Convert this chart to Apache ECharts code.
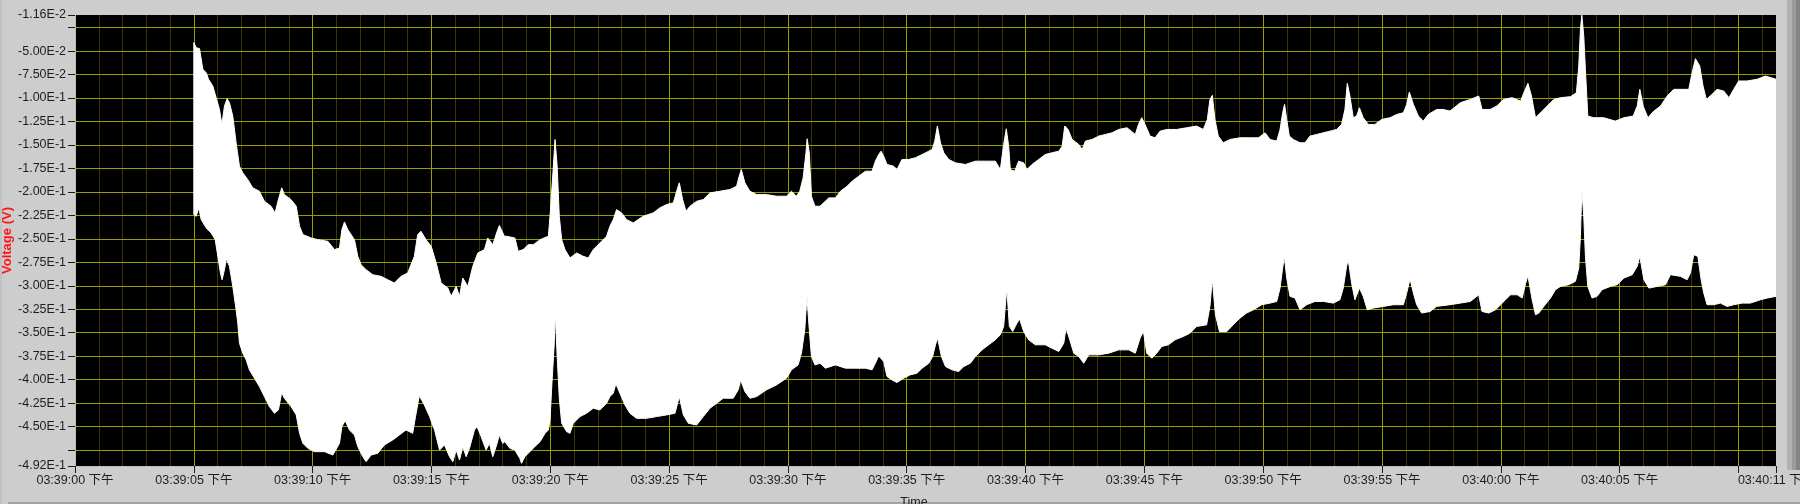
<!DOCTYPE html>
<html>
<head>
<meta charset="utf-8">
<script src="https://cdn.jsdelivr.net/npm/echarts@6/dist/echarts.min.js"></script>
<style>
html,body{margin:0;padding:0;background:#cdcdcd;overflow:hidden;}
#chart{width:1800px;height:504px;}
</style>
</head>
<body>
<div id="chart"></div>
<script>
// seconds after 03:39:00 PM
const upperTime = [5.00,5.10,5.24,5.38,5.52,5.62,5.80,5.94,6.08,6.18,6.29,6.40,6.50,6.64,6.78,6.92,7.06,7.27,7.48,7.76,7.97,8.25,8.42,8.56,8.70,8.81,9.09,9.31,9.45,9.59,9.94,10.22,10.64,10.92,11.13,11.23,11.34,11.48,11.76,11.90,12.04,12.25,12.53,12.88,13.16,13.44,13.72,14.00,14.28,14.42,14.56,14.77,14.99,15.20,15.41,15.69,15.83,16.04,16.18,16.32,16.53,16.74,16.95,17.23,17.37,17.58,17.79,17.86,18.07,18.16,18.51,18.65,18.86,19.07,19.29,19.57,19.92,20.01,20.13,20.20,20.29,20.38,20.48,20.62,20.83,21.11,21.39,21.60,21.81,22.09,22.37,22.51,22.65,22.79,23.00,23.21,23.49,23.70,23.91,24.33,24.61,24.89,25.18,25.34,25.43,25.57,25.71,25.88,26.16,26.44,26.72,27.14,27.56,27.84,27.95,28.04,28.19,28.40,28.68,29.10,29.52,29.94,30.15,30.36,30.50,30.64,30.76,30.81,30.90,30.99,31.14,31.35,31.72,32.00,32.21,32.49,32.70,32.98,33.26,33.54,33.68,33.82,33.92,34.03,34.17,34.45,34.59,34.80,35.08,35.36,35.65,35.93,36.07,36.18,36.29,36.42,36.56,36.77,37.05,37.47,37.89,38.31,38.73,38.94,39.08,39.19,39.29,39.36,39.54,39.71,39.92,40.06,40.27,40.55,40.83,41.11,41.40,41.54,41.65,41.79,41.96,42.24,42.38,42.52,42.80,43.08,43.36,43.64,43.92,44.27,44.62,44.75,44.89,45.03,45.24,45.45,45.66,45.94,46.36,46.78,47.20,47.48,47.65,47.76,47.86,47.97,48.11,48.32,48.60,49.02,49.45,49.80,50.08,50.29,50.57,50.71,50.82,50.90,50.99,51.10,51.27,51.55,51.76,51.97,52.25,52.53,52.81,53.09,53.30,53.44,53.54,53.65,53.79,53.93,54.05,54.21,54.43,54.70,54.99,55.34,55.62,55.90,56.04,56.15,56.32,56.53,56.74,56.95,57.30,57.58,57.86,58.30,58.72,59.07,59.21,59.55,59.83,60.11,60.48,60.83,61.00,61.14,61.29,61.46,61.67,61.95,62.23,62.51,62.93,63.18,63.28,63.35,63.41,63.49,63.56,63.66,63.91,64.33,64.82,65.18,65.57,65.74,65.85,65.99,66.19,66.44,66.72,67.00,67.28,67.70,67.91,68.05,68.19,68.37,68.51,68.65,68.89,69.10,69.38,69.60,69.80,70.01,70.36,70.78,71.14,71.58];
const upperVolt = [-0.0410,-0.0464,-0.0474,-0.0695,-0.0730,-0.0801,-0.0873,-0.0997,-0.1122,-0.1282,-0.1086,-0.1008,-0.1050,-0.1193,-0.1477,-0.1726,-0.1797,-0.1869,-0.1957,-0.1993,-0.2100,-0.2153,-0.2224,-0.2082,-0.1957,-0.2029,-0.2082,-0.2153,-0.2366,-0.2455,-0.2491,-0.2509,-0.2527,-0.2615,-0.2598,-0.2402,-0.2320,-0.2402,-0.2509,-0.2687,-0.2776,-0.2829,-0.2882,-0.2900,-0.2936,-0.2971,-0.2900,-0.2864,-0.2687,-0.2455,-0.2420,-0.2509,-0.2580,-0.2758,-0.2971,-0.3025,-0.3113,-0.3007,-0.3113,-0.2918,-0.3007,-0.2793,-0.2651,-0.2615,-0.2491,-0.2562,-0.2402,-0.2359,-0.2473,-0.2473,-0.2491,-0.2633,-0.2615,-0.2562,-0.2562,-0.2509,-0.2473,-0.2189,-0.1726,-0.1442,-0.1726,-0.2260,-0.2509,-0.2615,-0.2704,-0.2651,-0.2687,-0.2704,-0.2615,-0.2544,-0.2473,-0.2366,-0.2295,-0.2189,-0.2224,-0.2295,-0.2331,-0.2295,-0.2260,-0.2224,-0.2171,-0.2135,-0.2117,-0.1975,-0.1904,-0.2082,-0.2206,-0.2153,-0.2100,-0.2082,-0.2011,-0.1993,-0.1975,-0.1940,-0.1833,-0.1762,-0.1904,-0.1993,-0.2029,-0.2029,-0.2046,-0.2046,-0.1993,-0.2046,-0.1993,-0.1851,-0.1584,-0.1435,-0.1584,-0.2046,-0.2153,-0.2153,-0.2064,-0.2064,-0.1993,-0.1940,-0.1886,-0.1833,-0.1780,-0.1780,-0.1673,-0.1602,-0.1566,-0.1620,-0.1708,-0.1726,-0.1762,-0.1655,-0.1655,-0.1637,-0.1602,-0.1566,-0.1548,-0.1459,-0.1299,-0.1477,-0.1584,-0.1655,-0.1691,-0.1708,-0.1673,-0.1673,-0.1673,-0.1762,-0.1495,-0.1328,-0.1513,-0.1762,-0.1780,-0.1673,-0.1691,-0.1762,-0.1708,-0.1655,-0.1602,-0.1584,-0.1566,-0.1513,-0.1299,-0.1335,-0.1442,-0.1495,-0.1548,-0.1459,-0.1442,-0.1406,-0.1388,-0.1371,-0.1335,-0.1317,-0.1388,-0.1282,-0.1210,-0.1282,-0.1406,-0.1424,-0.1353,-0.1335,-0.1335,-0.1317,-0.1299,-0.1335,-0.1228,-0.1015,-0.0972,-0.1228,-0.1406,-0.1477,-0.1442,-0.1424,-0.1424,-0.1424,-0.1371,-0.1442,-0.1459,-0.1335,-0.1157,-0.1068,-0.1228,-0.1406,-0.1442,-0.1477,-0.1477,-0.1406,-0.1388,-0.1371,-0.1353,-0.1335,-0.1282,-0.1122,-0.0844,-0.0979,-0.1210,-0.1193,-0.1104,-0.1210,-0.1282,-0.1282,-0.1228,-0.1210,-0.1175,-0.1157,-0.1068,-0.0937,-0.1068,-0.1193,-0.1246,-0.1175,-0.1122,-0.1122,-0.1139,-0.1050,-0.1015,-0.0979,-0.1122,-0.1122,-0.1086,-0.1015,-0.0997,-0.1033,-0.0926,-0.0844,-0.0979,-0.1210,-0.1157,-0.1086,-0.1015,-0.0997,-0.0986,-0.0944,-0.0659,-0.0268,-0.0118,-0.0339,-0.0695,-0.1193,-0.1210,-0.1210,-0.1246,-0.1210,-0.1193,-0.1086,-0.0908,-0.1086,-0.1210,-0.1139,-0.1086,-0.0979,-0.0908,-0.0908,-0.0908,-0.0730,-0.0581,-0.0659,-0.0873,-0.1015,-0.0961,-0.0908,-0.0926,-0.0997,-0.0908,-0.0819,-0.0819,-0.0801,-0.0766,-0.0801];
const lowerTime = [5.00,5.10,5.21,5.31,5.52,5.73,5.90,6.01,6.12,6.19,6.29,6.37,6.50,6.64,6.78,6.85,6.92,7.06,7.20,7.34,7.55,7.76,7.97,8.18,8.39,8.56,8.70,8.81,9.09,9.31,9.45,9.59,9.80,10.08,10.50,10.85,11.13,11.23,11.37,11.55,11.76,11.90,12.11,12.25,12.46,12.74,13.02,13.37,13.65,13.93,14.21,14.33,14.49,14.70,14.92,15.13,15.34,15.55,15.76,15.90,16.04,16.18,16.32,16.46,16.60,16.81,16.92,17.09,17.30,17.44,17.58,17.72,17.86,18.00,18.09,18.30,18.51,18.72,18.79,18.93,19.14,19.35,19.57,19.78,19.92,19.99,20.07,20.17,20.21,20.29,20.38,20.48,20.69,20.83,20.97,21.25,21.53,21.81,22.09,22.37,22.51,22.65,22.76,22.93,23.14,23.35,23.63,24.05,24.47,24.89,25.25,25.43,25.60,25.81,26.16,26.44,26.72,27.00,27.28,27.70,27.91,28.01,28.19,28.40,28.68,29.10,29.52,29.94,30.15,30.43,30.57,30.71,30.80,30.90,30.99,31.14,31.35,31.58,32.00,32.42,32.84,33.26,33.54,33.68,33.82,34.03,34.17,34.38,34.59,34.87,35.15,35.43,35.65,35.93,36.09,36.21,36.30,36.46,36.63,36.91,37.19,37.40,37.68,37.89,38.17,38.45,38.73,38.94,39.08,39.21,39.32,39.46,39.64,39.75,39.92,40.13,40.41,40.83,41.11,41.40,41.61,41.70,41.84,42.03,42.24,42.45,42.66,43.08,43.50,43.92,44.34,44.62,44.82,44.96,45.10,45.31,45.52,45.73,46.01,46.29,46.64,46.92,47.20,47.62,47.76,47.86,47.99,48.16,48.47,48.74,49.02,49.30,49.59,49.94,50.29,50.57,50.71,50.81,50.89,50.99,51.13,51.34,51.55,51.83,52.18,52.53,52.95,53.23,53.37,53.51,53.58,53.72,53.86,54.05,54.21,54.38,54.64,55.06,55.48,55.90,56.04,56.18,56.32,56.46,56.67,57.02,57.30,57.86,58.30,58.72,59.07,59.21,59.49,59.78,59.99,60.20,60.41,60.69,60.90,61.04,61.14,61.32,61.46,61.60,61.81,62.09,62.30,62.51,62.86,63.14,63.28,63.35,63.41,63.49,63.56,63.66,63.84,64.05,64.26,64.61,64.89,65.18,65.53,65.74,65.85,66.02,66.23,66.58,66.93,67.14,67.56,67.84,67.98,68.12,68.29,68.43,68.54,68.68,68.96,69.24,69.52,69.80,70.16,70.50,70.93,71.21,71.58];
const lowerVolt = [-0.2242,-0.2260,-0.2171,-0.2295,-0.2384,-0.2438,-0.2509,-0.2687,-0.2864,-0.2936,-0.2829,-0.2715,-0.2793,-0.3007,-0.3256,-0.3398,-0.3611,-0.3718,-0.3789,-0.3896,-0.3985,-0.4074,-0.4181,-0.4287,-0.4358,-0.4323,-0.4138,-0.4198,-0.4287,-0.4376,-0.4572,-0.4679,-0.4732,-0.4767,-0.4767,-0.4803,-0.4679,-0.4501,-0.4437,-0.4536,-0.4590,-0.4714,-0.4821,-0.4874,-0.4803,-0.4785,-0.4696,-0.4643,-0.4590,-0.4536,-0.4572,-0.4394,-0.4173,-0.4269,-0.4394,-0.4536,-0.4750,-0.4696,-0.4821,-0.4874,-0.4750,-0.4856,-0.4714,-0.4821,-0.4732,-0.4536,-0.4501,-0.4607,-0.4750,-0.4679,-0.4821,-0.4714,-0.4590,-0.4679,-0.4661,-0.4732,-0.4750,-0.4839,-0.4892,-0.4821,-0.4767,-0.4714,-0.4661,-0.4572,-0.4536,-0.4430,-0.4038,-0.3611,-0.3284,-0.3754,-0.4198,-0.4465,-0.4554,-0.4572,-0.4465,-0.4394,-0.4358,-0.4305,-0.4323,-0.4252,-0.4181,-0.4145,-0.4045,-0.4145,-0.4269,-0.4358,-0.4412,-0.4412,-0.4394,-0.4376,-0.4358,-0.4181,-0.4376,-0.4465,-0.4483,-0.4394,-0.4305,-0.4252,-0.4198,-0.4198,-0.4109,-0.4003,-0.4127,-0.4198,-0.4181,-0.4109,-0.4056,-0.3985,-0.3896,-0.3843,-0.3718,-0.3469,-0.3113,-0.3469,-0.3754,-0.3843,-0.3825,-0.3878,-0.3843,-0.3878,-0.3878,-0.3878,-0.3896,-0.3825,-0.3747,-0.3807,-0.3967,-0.4003,-0.4031,-0.3985,-0.3949,-0.3932,-0.3878,-0.3825,-0.3754,-0.3629,-0.3558,-0.3754,-0.3860,-0.3896,-0.3914,-0.3860,-0.3825,-0.3754,-0.3683,-0.3629,-0.3576,-0.3522,-0.3434,-0.3025,-0.3434,-0.3487,-0.3398,-0.3355,-0.3487,-0.3576,-0.3629,-0.3629,-0.3665,-0.3700,-0.3611,-0.3451,-0.3558,-0.3718,-0.3754,-0.3825,-0.3736,-0.3736,-0.3718,-0.3683,-0.3683,-0.3718,-0.3558,-0.3487,-0.3718,-0.3772,-0.3718,-0.3647,-0.3629,-0.3576,-0.3540,-0.3505,-0.3434,-0.3416,-0.3220,-0.2928,-0.3309,-0.3487,-0.3487,-0.3416,-0.3345,-0.3291,-0.3256,-0.3202,-0.3185,-0.3167,-0.3025,-0.2829,-0.2687,-0.2918,-0.3113,-0.3131,-0.3256,-0.3202,-0.3167,-0.3167,-0.3185,-0.3149,-0.3025,-0.2793,-0.2722,-0.2971,-0.3149,-0.3025,-0.3113,-0.3256,-0.3238,-0.3220,-0.3202,-0.3202,-0.3078,-0.2928,-0.3078,-0.3202,-0.3291,-0.3274,-0.3220,-0.3202,-0.3185,-0.3167,-0.3096,-0.3274,-0.3291,-0.3256,-0.3202,-0.3149,-0.3096,-0.3096,-0.3131,-0.2978,-0.2893,-0.3149,-0.3309,-0.3291,-0.3220,-0.3131,-0.3042,-0.3007,-0.2989,-0.2953,-0.2811,-0.2473,-0.1975,-0.2260,-0.2687,-0.3007,-0.3131,-0.3113,-0.3042,-0.3007,-0.2989,-0.2918,-0.2882,-0.2793,-0.2687,-0.2936,-0.3025,-0.3007,-0.2989,-0.2882,-0.2900,-0.2936,-0.2864,-0.2669,-0.2687,-0.2936,-0.3078,-0.3202,-0.3202,-0.3185,-0.3220,-0.3202,-0.3185,-0.3185,-0.3149,-0.3131,-0.3113];

const yTickValues = [-0.0116,-0.025,-0.05,-0.075,-0.1,-0.125,-0.15,-0.175,-0.2,-0.225,-0.25,-0.275,-0.3,-0.325,-0.35,-0.375,-0.4,-0.425,-0.45,-0.475,-0.492];
const yHiddenLabels = [-0.025,-0.475];
const xHiddenLabels = [70];
const timeStartSec = 15*3600 + 39*60;   // 03:39:00 PM
const xMin = 0, xMax = 71.58;
const yMin = -0.492, yMax = -0.0116;

const FONT = "'Liberation Sans','Noto Sans CJK SC',sans-serif";
const MAJOR = '#9c9c00';
const MINOR = '#3a3a00';

function pad(n){ return (n<10?'0':'') + n; }
function fmtTime(v){
  if (xHiddenLabels.some(h => Math.abs(h - v) < 1e-6)) return '';
  const s = timeStartSec + Math.floor(v + 1e-6);
  let h = Math.floor(s/3600) % 12; if (h === 0) h = 12;
  const m = Math.floor(s/60) % 60, sec = s % 60;
  return pad(h) + ':' + pad(m) + ':' + pad(sec) + ' 下午';
}
function fmtVolt(v){
  if (yHiddenLabels.some(h => Math.abs(h - v) < 1e-9)) return '';
  return v.toExponential(2).replace('e', 'E').replace('E+', 'E');
}

const chart = echarts.init(document.getElementById('chart'), null, {renderer:'canvas'});
chart.setOption({
  animation: false,
  backgroundColor: '#cdcdcd',
  textStyle: {fontFamily: FONT},
  grid: {left: 75, right: 24, top: 15, bottom: 38, show: true, backgroundColor: '#000000', borderWidth: 0, outerBoundsMode: 'none', containLabel: false},
  xAxis: [{
    type: 'value', min: xMin, max: xMax, interval: 5, z: 1,
    axisLine: {show: true, onZero: false, lineStyle: {color: '#bdbdbd', width: 1}},
    axisTick: {show: true, length: 7, lineStyle: {color: '#1a1a1a'}},
    axisLabel: {show: true, margin: 8, color: '#1e1e1e', fontSize: 12.5, fontFamily: FONT, formatter: fmtTime, showMaxLabel: true, showMinLabel: true},
    splitLine: {show: true, showMinLine: false, showMaxLine: false, lineStyle: {color: MAJOR, width: 1}}
  }, {
    type: 'value', min: xMin, max: xMax, interval: 1, z: 0, position: 'bottom',
    axisLine: {show: false}, axisTick: {show: false}, axisLabel: {show: false},
    splitLine: {show: true, showMinLine: false, showMaxLine: false, lineStyle: {color: MINOR, width: 1}}
  }],
  yAxis: {
    type: 'value', min: yMin, max: yMax, z: 1,
    name: 'Voltage (V)', nameLocation: 'middle', nameGap: 61, nameMoveOverlap: false,
    nameTextStyle: {color: '#ff1414', fontWeight: 'bold', fontSize: 13, fontFamily: FONT},
    axisLine: {show: true, onZero: false, lineStyle: {color: '#bdbdbd', width: 1}},
    axisTick: {show: true, length: 7, customValues: yTickValues, lineStyle: {color: '#1a1a1a'}},
    axisLabel: {show: true, margin: 9, color: '#1e1e1e', fontSize: 12.5, fontFamily: FONT, customValues: yTickValues, formatter: fmtVolt, showMinLabel: true, showMaxLabel: true},
    splitLine: {show: true, showMinLine: false, showMaxLine: false, lineStyle: {color: MAJOR, width: 1}}
  },
  graphic: [
    {type: 'rect', shape: {x: 1787, y: 0, width: 5, height: 470}, style: {fill: '#b2b2b2'}, z: 0},
    {type: 'rect', shape: {x: 1792, y: 0, width: 4, height: 470}, style: {fill: '#9c9c9c'}, z: 0},
    {type: 'rect', shape: {x: 1796, y: 0, width: 4, height: 470}, style: {fill: '#858585'}, z: 0},
    {type: 'rect', shape: {x: 0, y: 0, width: 2, height: 504}, style: {fill: '#c2c2c2'}, z: 0},
    {type: 'rect', shape: {x: 8, y: 502, width: 1792, height: 2}, style: {fill: '#a4a4a4'}, z: 0},
    {type: 'text', x: 914, y: 496, style: {text: 'Time', fill: '#1e1e1e', font: '12.5px ' + FONT, textAlign: 'center', textVerticalAlign: 'top'}, z: 5}
  ],
  series: [{
    type: 'custom',
    xAxisIndex: 0, yAxisIndex: 0,
    coordinateSystem: 'cartesian2d',
    clip: true,
    silent: true,
    z: 2,
    data: [[upperTime[0], upperVolt[0]]],
    renderItem: function (params, api) {
      const pts = [];
      for (let i = 0; i < upperTime.length; i++) pts.push(api.coord([upperTime[i], upperVolt[i]]));
      for (let i = lowerTime.length - 1; i >= 0; i--) pts.push(api.coord([lowerTime[i], lowerVolt[i]]));
      return {type: 'polygon', shape: {points: pts}, style: {fill: '#ffffff', stroke: '#ffffff', lineWidth: 1}};
    }
  }]
});
</script>
</body>
</html>
